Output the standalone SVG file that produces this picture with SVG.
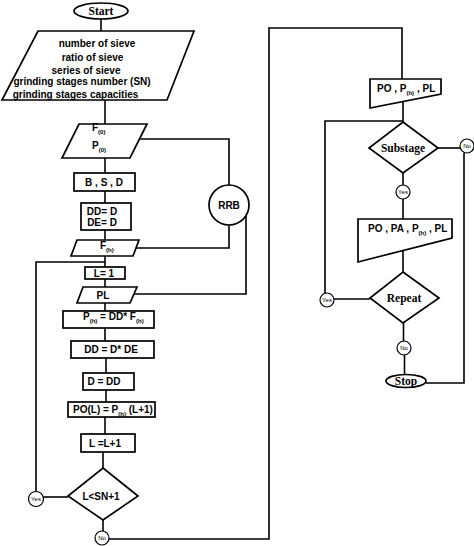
<svg xmlns="http://www.w3.org/2000/svg" width="474" height="546" viewBox="0 0 474 546">
<style>
.s{fill:#fff;stroke:#000;stroke-width:1.7}
.c{fill:none;stroke:#000;stroke-width:1.6}
.t{font-family:"Liberation Sans",Arial,sans-serif;font-weight:bold;font-size:10px;fill:#000}
.m{text-anchor:middle}
.r{font-family:"Liberation Serif","Times New Roman",serif;font-weight:bold;font-size:11.5px;fill:#000;text-anchor:middle}
.o{fill:#fff;stroke:#000;stroke-width:1.2}
.y{font-family:"Liberation Sans",Arial,sans-serif;font-size:6px;fill:#000;text-anchor:middle}
.sub{font-size:6px}
</style>
<rect width="474" height="546" fill="#fff"/>
<g id="connectors">
<path class="c" d="M101,19V31"/>
<path class="c" d="M105,100V124"/>
<path class="c" d="M140,139H229V185"/>
<path class="c" d="M229,225V248H136"/>
<path class="c" d="M246,215V294H134"/>
<path class="c" d="M105,158V173"/>
<path class="c" d="M105,191V203"/>
<path class="c" d="M105,230V240"/>
<path class="c" d="M105,256V267"/>
<path class="c" d="M36,491.5V262H105"/>
<path class="c" d="M105,279V287"/>
<path class="c" d="M105,303V311"/>
<path class="c" d="M105,328V341"/>
<path class="c" d="M106,358V373"/>
<path class="c" d="M106,390V402"/>
<path class="c" d="M105,417V434"/>
<path class="c" d="M103,452V468"/>
<path class="c" d="M43.5,497H68"/>
<path class="c" d="M103,520V531"/>
<path class="c" d="M109,539H269V28H402V79"/>
<path class="c" d="M403,101V122"/>
<path class="c" d="M325,293V121H403"/>
<path class="c" d="M438,148H460"/>
<path class="c" d="M464,153V383H426"/>
<path class="c" d="M403,173V185"/>
<path class="c" d="M403,199V219"/>
<path class="c" d="M403,250V272"/>
<path class="c" d="M334,299H370"/>
<path class="c" d="M403.5,323V341"/>
<path class="c" d="M404.5,355V375"/>
</g>
<g id="start">
<ellipse class="s" cx="101" cy="11" rx="27" ry="8"/>
<text class="r" x="101" y="15">Start</text>
</g>
<g id="input">
<polygon class="s" points="38,31 194,31 167,100 2,100"/>
<text class="t m" x="97" y="46.5" font-size="9.4">number of sieve</text>
<text class="t m" x="92.5" y="60.5" font-size="9.4">ratio of sieve</text>
<text class="t m" x="86" y="73.5" font-size="9.4">series of sieve</text>
<text class="t m" x="82" y="85" font-size="9.4">grinding stages number (SN)</text>
<text class="t m" x="75.5" y="98" font-size="9.4">grinding stages capacities</text>
</g>
<g id="fp">
<polygon class="s" points="79,124 147,124 130,158 62,158"/>
<text class="t" x="92" y="131">F<tspan class="sub" dy="3">(0)</tspan></text>
<text class="t" x="92" y="149">P<tspan class="sub" dy="3">(0)</tspan></text>
</g>
<g id="rrb">
<circle class="s" cx="229" cy="205" r="20"/>
<text class="t m" x="229" y="209">RRB</text>
</g>
<g id="bsd">
<rect class="s" x="74" y="173" width="61" height="18"/>
<text class="t m" x="104" y="186">B , S , D</text>
</g>
<g id="dd">
<rect class="s" x="81" y="203" width="50" height="27"/>
<text class="t m" x="102" y="214.5">DD= D</text>
<text class="t m" x="102" y="226">DE= D</text>
</g>
<g id="fh">
<polygon class="s" points="77,240 139,240 133,256 71,256"/>
<text class="t" x="100" y="249">F<tspan class="sub" dy="3">(h)</tspan></text>
</g>
<g id="l1">
<rect class="s" x="85" y="267" width="40" height="12"/>
<text class="t m" x="104" y="276.5">L= 1</text>
</g>
<g id="pl">
<polygon class="s" points="83,287 137,287 130,303 77,303"/>
<text class="t m" x="103" y="299">PL</text>
</g>
<g id="ph">
<rect class="s" x="63" y="311" width="91" height="17"/>
<text class="t" x="83" y="320">P<tspan class="sub" dy="3">(h)</tspan><tspan dy="-3"> = DD* </tspan>F<tspan class="sub" dy="3">(h)</tspan></text>
</g>
<g id="dde">
<rect class="s" x="71" y="341" width="83" height="17"/>
<text class="t m" x="111" y="353">DD = D* DE</text>
</g>
<g id="ddd">
<rect class="s" x="83" y="373" width="51" height="17"/>
<text class="t m" x="104" y="385">D = DD</text>
</g>
<g id="po">
<rect class="s" x="68" y="402" width="87" height="15"/>
<text class="t" x="73" y="413">PO(L)  = P<tspan class="sub" dy="3">(h)</tspan><tspan dy="-3"> (L+1)</tspan></text>
</g>
<g id="linc">
<rect class="s" x="81" y="434" width="54" height="18"/>
<text class="t m" x="105" y="446.5">L =L+1</text>
</g>
<g id="cond">
<polygon class="s" points="103,468 138,496 103,520 68,496"/>
<text class="t m" x="101" y="499.5">L&lt;SN+1</text>
</g>
<g id="yes1">
<circle class="o" cx="36" cy="499" r="7.5"/>
<text class="y" x="36" y="501">Yes</text>
</g>
<g id="no1">
<circle class="o" cx="102" cy="538" r="7"/>
<text class="y" x="102" y="540">No</text>
</g>
<g id="out1">
<polygon class="s" points="370,79 441,79 441,94 370,108"/>
<text class="t" x="377" y="92">PO , P<tspan class="sub" dy="3">(h)</tspan><tspan dy="-3"> , PL</tspan></text>
</g>
<g id="substage">
<polygon class="s" points="403,122 438,148 403,173 369,148"/>
<text class="r" x="403" y="152">Substage</text>
</g>
<g id="no2">
<circle class="o" cx="467" cy="146" r="7"/>
<text class="y" x="467" y="148">No</text>
</g>
<g id="yes2">
<circle class="o" cx="403" cy="192" r="7"/>
<text class="y" x="403" y="194">Yes</text>
</g>
<g id="out2">
<polygon class="s" points="358,219 452,219 452,238 358,262"/>
<text class="t" x="368" y="232">PO , PA , P<tspan class="sub" dy="3">(h)</tspan><tspan dy="-3"> , PL</tspan></text>
</g>
<g id="repeat">
<polygon class="s" points="403,272 439,298 403,323 370,298"/>
<text class="r" x="404" y="302">Repeat</text>
</g>
<g id="yes3">
<circle class="o" cx="327" cy="300" r="7"/>
<text class="y" x="327" y="302">Yes</text>
</g>
<g id="no3">
<circle class="o" cx="404" cy="348" r="7"/>
<text class="y" x="404" y="350">No</text>
</g>
<g id="stop">
<ellipse class="s" cx="406" cy="381" rx="20" ry="6.5"/>
<text class="r" x="406" y="385">Stop</text>
</g>
</svg>
